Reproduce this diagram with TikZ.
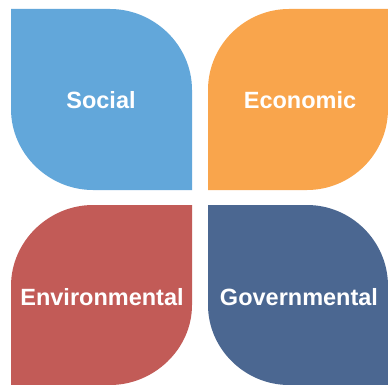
\documentclass[tikz,border=0pt]{standalone}
\usepackage{fontspec}
\setmainfont{Liberation Sans}
\definecolor{socialc}{HTML}{62A7DA}
\definecolor{econc}{HTML}{F9A54C}
\definecolor{envc}{HTML}{C25B57}
\definecolor{govc}{HTML}{4B6791}
\begin{document}
\begin{tikzpicture}[x=1pt,y=-1pt,
  lbl/.style={text=white,font=\fontsize{23.5}{28}\selectfont\bfseries,inner sep=0pt}]
\useasboundingbox (0,0) rectangle (388,385);
\fill[white] (0,0) rectangle (388,385);
% Social: sharp top-left & bottom-right
\fill[socialc] (11,9) -- (110,9) .. controls (154,9) and (192,45) .. (192,90)
  -- (192,190) -- (93,190) .. controls (49,190) and (11,154) .. (11,109) -- cycle;
% Economic: sharp top-right & bottom-left
\fill[econc] (388,9) -- (388,109) .. controls (388,154) and (351,190) .. (307,190)
  -- (208,190) -- (208,90) .. controls (208,45) and (245,9) .. (289,9) -- cycle;
% Environmental: sharp top-right & bottom-left
\fill[envc] (192,205) -- (192,305) .. controls (192,349) and (154,385) .. (110,385)
  -- (11,385) -- (11,286) .. controls (11,241) and (49,205) .. (93,205) -- cycle;
% Governmental: sharp top-left & bottom-right
\fill[govc] (208,205) -- (307,205) .. controls (351,205) and (388,241) .. (388,286)
  -- (388,385) -- (289,385) .. controls (245,385) and (208,349) .. (208,305) -- cycle;
\node[lbl] (social) at (101,100) {Social};
\node[lbl] (econ) at (300,100) {Economic};
\node[lbl] (env) at (102,297) {Environmental};
\node[lbl] (gov) at (299,297) {Governmental};
\end{tikzpicture}
\end{document}
